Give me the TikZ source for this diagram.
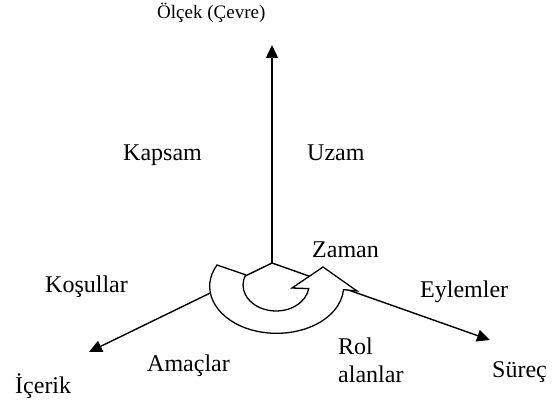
\documentclass[tikz,border=0pt]{standalone}
\usepackage{fontspec}
\setmainfont{Liberation Serif}
\usetikzlibrary{arrows.meta}
\tikzset{
  axis/.style={line width=1.4pt,-{Triangle[length=13pt,width=12pt]}},
  lbl/.style={anchor=base west,inner sep=0pt,font=\fontsize{24}{28}\selectfont},
}
\begin{document}
\begin{tikzpicture}[x=1pt,y=1pt]
  \useasboundingbox (0,0) rectangle (553,402);
  \coordinate (O) at (272,139);
  \coordinate (scale) at (272,357);
  \coordinate (content) at (89,50);
  \coordinate (process) at (490,62);
  \draw[axis] (O) -- (scale);
  \draw[axis] (O) -- (content);
  \draw[axis] (O) -- (process);
  % donen ok (zaman)
  \draw[line width=1.3pt,fill=white] (245.6,127.2) -- (217,137)
    arc[start angle=153,end angle=356,x radius=67pt,y radius=47pt]
    -- (357,111) -- (323,135) -- (292,114) -- (308.7,113.4)
    arc[start angle=-8,end angle=-203,x radius=33pt,y radius=26pt] -- cycle;
  \node[lbl,font=\fontsize{19}{23}\selectfont] (olcek) at (157,383) {Ölçek (Çevre)};
  \node[lbl] (kapsam) at (123,241) {Kapsam};
  \node[lbl] (uzam) at (307,241) {Uzam};
  \node[lbl] (zaman) at (312,145) {Zaman};
  \node[lbl] (eylemler) at (420,105) {Eylemler};
  \node[lbl] (kosullar) at (45,110) {Koşullar};
  \node[lbl] (amaclar) at (147,31) {Amaçlar};
  \node[lbl,align=left] (rol) at (338,20) {Rol\\alanlar};
  \node[lbl] (surec) at (492,25) {Süreç};
  \node[lbl] (icerik) at (15,9) {İçerik};
\end{tikzpicture}
\end{document}
